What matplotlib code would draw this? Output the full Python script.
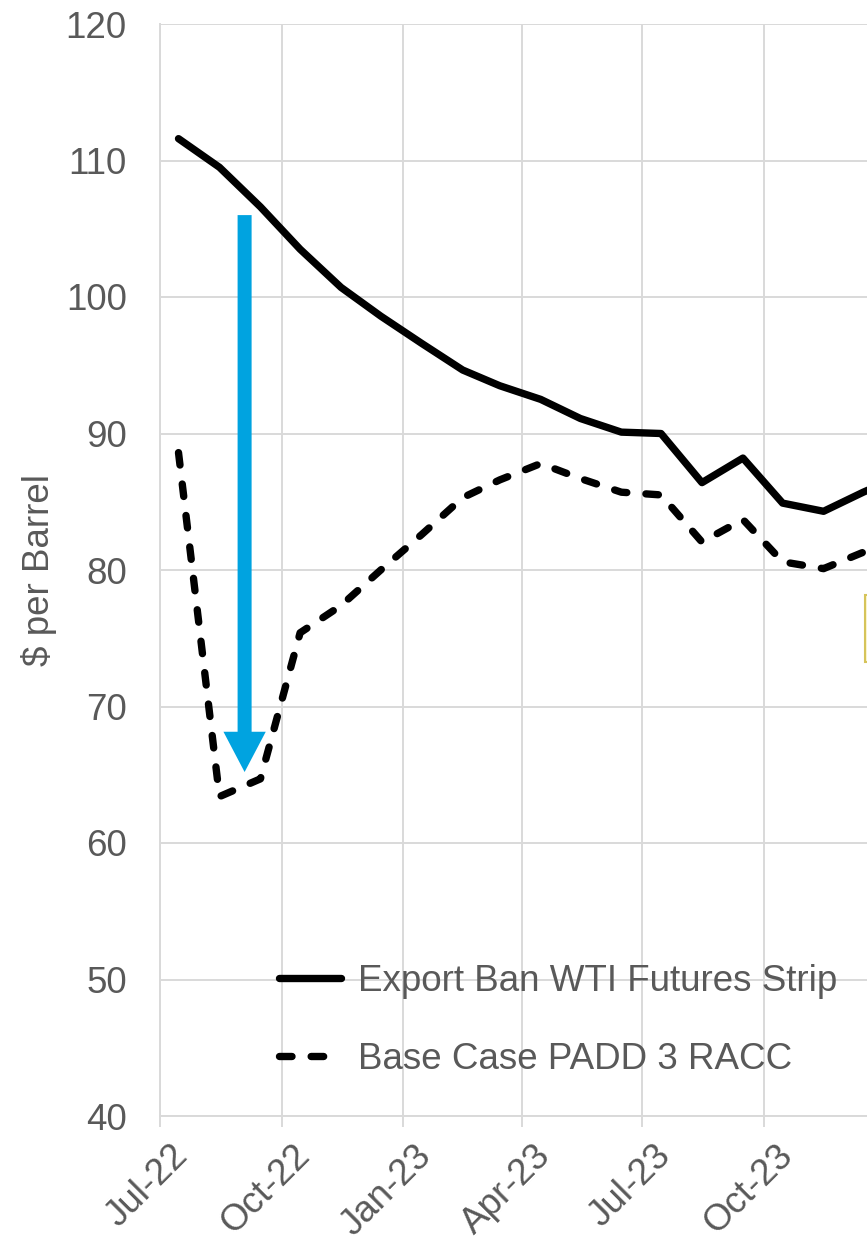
import matplotlib.pyplot as plt
import matplotlib.dates as mdates
from matplotlib.patches import Rectangle
from matplotlib.transforms import ScaledTranslation
import numpy as np
import pandas as pd

plt.rcParams['font.family'] = ['Liberation Sans', 'DejaVu Sans']

# Monthly prices, plotted mid-month
months = pd.date_range('2022-07-01', '2024-01-01', freq='MS') + pd.Timedelta(days=14)
wti_strip = [111.6, 109.5, 106.6, 103.5, 100.7, 98.6, 96.6, 94.65, 93.5, 92.5,
             91.1, 90.1, 90.0, 86.4, 88.2, 84.9, 84.3, 85.7, 87.0]
padd3_racc = [88.6, 63.4, 64.7, 75.4, 77.4, 80.0, 82.6, 85.3, 86.6, 87.8,
              86.7, 85.7, 85.5, 82.05, 83.7, 80.6, 80.1, 81.3, 82.5]

tick_dates = pd.to_datetime(['2022-07-01', '2022-10-01', '2023-01-01',
                             '2023-04-01', '2023-07-01', '2023-10-01'])
tick_labels = ['Jul-22', 'Oct-22', 'Jan-23', 'Apr-23', 'Jul-23', 'Oct-23']
y_ticks = [40, 50, 60, 70, 80, 90, 100, 110, 120]

# drop from the strip to the RACC trough
arrow_date = pd.Timestamp('2022-09-03')
arrow_top, arrow_tip = 106.0, 65.2

grey = '#595959'
grid_c = '#d9d9d9'
blue = '#00a3e0'
fs = 26.5

W, H = 867, 1241
fig = plt.figure(figsize=(W / 100, H / 100), dpi=100)
ax = fig.add_axes([160 / W, 1 - 1116 / H, 846 / W, 1092 / H])

ax.plot(months, wti_strip, color='black', lw=5.3, solid_joinstyle='round',
        solid_capstyle='round', label='Export Ban WTI Futures Strip', zorder=3)
ax.plot(months, padd3_racc, color='black', lw=5.3, linestyle=(0, (1.7, 2.6)),
        dash_capstyle='round', label='Base Case PADD 3 RACC', zorder=3)

xa = mdates.date2num(arrow_date)
ax.arrow(xa, arrow_top, 0, arrow_tip - arrow_top, width=10.6, head_width=32,
         head_length=2.95, length_includes_head=True, color=blue, lw=0, zorder=4)

ax.set_xlim(pd.Timestamp('2022-07-01'), pd.Timestamp('2024-04-01'))
ax.set_ylim(40, 120)
ax.set_xticks(tick_dates)
ax.set_xticklabels(tick_labels)
ax.set_yticks(y_ticks)

ax.grid(True, color=grid_c, lw=1.4)
ax.set_axisbelow(True)
for s in ['top', 'right']:
    ax.spines[s].set_visible(False)
for s in ['left', 'bottom']:
    ax.spines[s].set_color(grid_c)
    ax.spines[s].set_linewidth(1.4)

ax.tick_params(axis='y', length=0, pad=24, labelsize=fs, labelcolor=grey)
ax.tick_params(axis='x', length=8, width=1.4, color=grid_c, pad=17,
               labelsize=fs, labelcolor=grey)
shift = ScaledTranslation(0.23, 0, fig.dpi_scale_trans)
for lab in ax.get_xticklabels():
    lab.set_rotation(45)
    lab.set_rotation_mode('anchor')
    lab.set_ha('right')
    lab.set_va('center')
    lab.set_transform(lab.get_transform() + shift)

ax.set_ylabel('$ per Barrel', fontsize=fs, color=grey)
ax.yaxis.set_label_coords(-0.1217, 0.5)

ax.legend(loc='lower left', bbox_to_anchor=(0.1405, 0.036), frameon=False,
          fontsize=fs, labelcolor=grey, handlelength=1.7, handletextpad=0.45,
          labelspacing=1.17, borderpad=0, borderaxespad=0)

# edge of the callout box at the right
fig.patches.append(Rectangle((865 / W, 1 - 662 / H), 40 / W, 67 / H,
                             transform=fig.transFigure, facecolor='#fdf7d2',
                             edgecolor='#d6c45a', lw=1.5, zorder=5))

fig.savefig('out.png', dpi=100)
